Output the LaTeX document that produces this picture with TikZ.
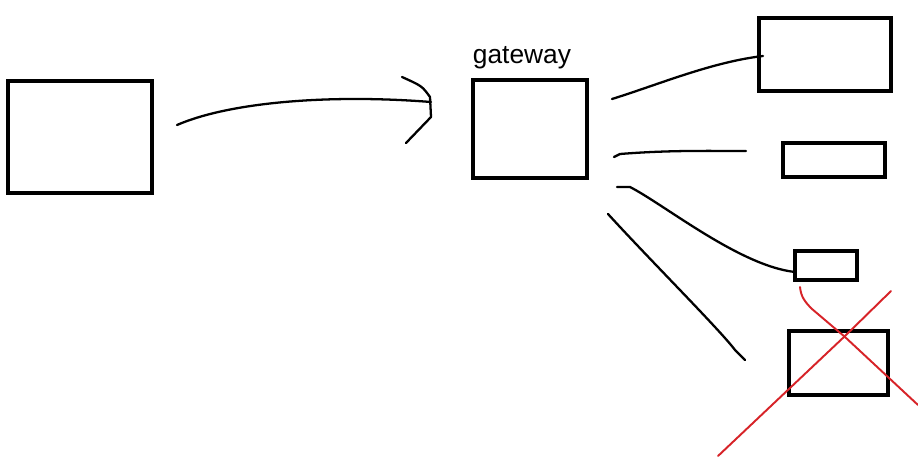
\documentclass[tikz,border=0pt]{standalone}
\usepackage{fontspec}
\setmainfont{Liberation Sans}
\usetikzlibrary{fit}
\begin{document}
\begin{tikzpicture}[x=0.02cm,y=-0.02cm,
  box/.style={draw=black,line width=2.1pt,inner sep=0pt},
  stroke/.style={draw=black,line width=1.3pt,line cap=round,line join=round},
  redstroke/.style={draw={rgb,255:red,215;green,35;blue,40},line width=1.1pt,line cap=round}]
\useasboundingbox (0,0) rectangle (918,456);
\fill[white] (0,0) rectangle (918,456);
% boxes
\node[box,fit={(8,81) (152,193)}] (client) {};
\node[box,fit={(473,80) (587,178)}] (gw) {};
\node[font=\fontsize{15}{18}\selectfont,anchor=base] (gwlabel) at (522,64) {gateway};
\node[box,fit={(759,18) (891,91)}] (s1) {};
\node[box,fit={(783,143) (885,177)}] (s2) {};
\node[box,fit={(795,251) (857,280)}] (s3) {};
\node[box,fit={(789,331) (888,395)}] (s4) {};
% free ends
\coordinate (a0) at (177,125);
\coordinate (a1) at (431,102);
\coordinate (h1) at (402,77);
\coordinate (h2) at (406,143);
\coordinate (l1a) at (612,99);
\coordinate (l1b) at (763,56);
\coordinate (l2a) at (614,157);
\coordinate (l2b) at (746,151);
\coordinate (l3a) at (617,187);
\coordinate (l3b) at (795,272);
\coordinate (l4a) at (608,214);
\coordinate (l4b) at (745,360);
\coordinate (x1a) at (800,287);
\coordinate (x1b) at (918,405);
\coordinate (x2a) at (891,291);
\coordinate (x2b) at (718,456);
% arrow
\draw[stroke] (a0) .. controls (230,102) and (330,94) .. (a1);
\draw[stroke] (h1) .. controls (422,86) .. (430,97) -- (431,117) -- (h2);
% connectors
\draw[stroke] (l1a) .. controls (660,84) and (712,62) .. (l1b);
\draw[stroke] (l2a) -- (620,154) .. controls (670,150) and (710,151) .. (l2b);
\draw[stroke] (l3a) -- (630,187) .. controls (665,205) and (740,266) .. (l3b);
\draw[stroke] (l4a) .. controls (650,260) and (720,330) .. (735,350) -- (l4b);
% red X
\draw[redstroke] (x1a) .. controls (801,297) and (805,302) .. (812,309) -- (845,337) -- (x1b);
\draw[redstroke] (x2a) -- (845,336) -- (x2b);
\end{tikzpicture}
\end{document}
